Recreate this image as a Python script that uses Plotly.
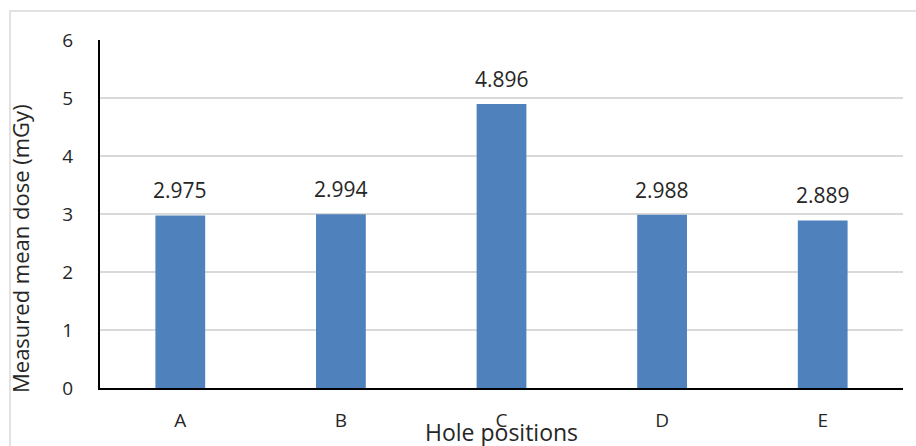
import plotly.graph_objects as go

categories = ["A", "B", "C", "D", "E"]
values = [2.975, 2.994, 4.896, 2.988, 2.889]
labels = ["2.975", "2.994", "4.896", "2.988", "2.889"]
y_ticks = [0, 1, 2, 3, 4, 5, 6]

FONT = "Open Sans, Liberation Sans, sans-serif"
TXT = "#262626"
W, H = 916, 446
L, R, T, B = 100, 13, 40, 58

fig = go.Figure(go.Bar(
    x=categories, y=values, width=0.31,
    marker=dict(color="#4f81bd", line=dict(width=0)),
    hoverinfo="x+y",
))

pw = W - L - R
ph = H - T - B

annotations = [
    dict(text=lab, x=c, y=v, xref="x", yref="y", showarrow=False,
         xanchor="center", yanchor="bottom", yshift=9,
         font=dict(family=FONT, size=21, color=TXT))
    for c, v, lab in zip(categories, values, labels)
]
annotations += [
    dict(text="Measured mean dose (mGy)", xref="paper", yref="paper",
         x=(20 - L) / pw, y=(H - B - 249) / ph, textangle=-90,
         showarrow=False, xanchor="center", yanchor="middle",
         font=dict(family=FONT, size=22, color=TXT)),
    dict(text="Hole positions", xref="paper", yref="paper",
         x=0.5, y=-(432 - (H - B)) / ph, showarrow=False,
         xanchor="center", yanchor="middle",
         font=dict(family=FONT, size=23, color=TXT)),
]

fig.update_layout(
    width=W, height=H,
    margin=dict(l=L, r=R, t=T, b=B, autoexpand=False),
    paper_bgcolor="white", plot_bgcolor="white",
    showlegend=False,
    font=dict(family=FONT, color=TXT),
    xaxis=dict(
        showline=True, linecolor="black", linewidth=2,
        showgrid=False, ticks="", ticklabelstandoff=14, automargin=False,
        tickfont=dict(family=FONT, size=19, color=TXT),
        range=[-0.5, 4.5],
    ),
    yaxis=dict(
        range=[0, 6], tickvals=y_ticks,
        showline=True, linecolor="black", linewidth=2,
        showgrid=True, gridcolor="#d9d9d9", gridwidth=2,
        zeroline=False, ticks="", ticklabelstandoff=21, automargin=False,
        tickfont=dict(family=FONT, size=19, color=TXT),
    ),
    annotations=annotations,
    shapes=[
        dict(type="rect", xref="paper", yref="paper",
             x0=(10 - L) / pw, x1=(W + 5 - L) / pw,
             y0=-(H + 5 - (H - B)) / ph, y1=1 + (T - 11) / ph,
             line=dict(color="#d9d9d9", width=1.5), layer="below"),
    ],
)

fig.write_html(
    "out.html",
    config={"displayModeBar": False},
    post_script="document.body.style.margin='0';document.body.style.overflow='hidden';",
)
